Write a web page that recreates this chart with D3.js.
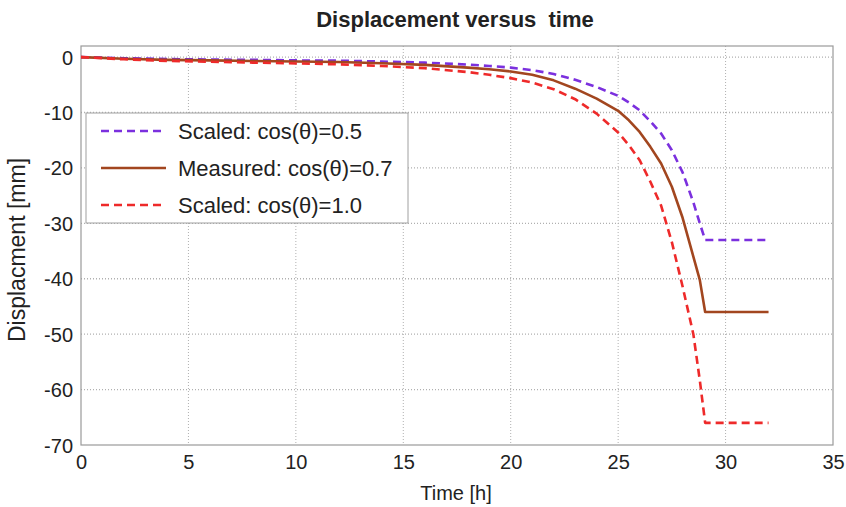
<!DOCTYPE html>
<html>
<head>
<meta charset="utf-8">
<script src="https://cdn.jsdelivr.net/npm/d3@7/dist/d3.min.js"></script>
<style>
  html, body { margin: 0; padding: 0; background: #fff; }
  text { font-family: "Liberation Sans", Arial, sans-serif; fill: #222; }
</style>
</head>
<body>
<svg id="chart" width="846" height="507"></svg>
<script>
// ---- data ----
const time = [0, 2, 4, 6, 8, 10, 12, 14, 16, 18, 19, 20, 21, 22, 23, 24, 25, 25.5, 26, 26.5, 27, 27.5, 28, 28.5, 28.8, 29.05, 32];
const scaled05 = [0, -0.2, -0.35, -0.45, -0.5, -0.6, -0.65, -0.8, -1.0, -1.35, -1.6, -1.9, -2.35, -3.05, -4.1, -5.4, -7.0, -8.2, -9.6, -11.6, -13.8, -16.8, -20.8, -26.2, -30, -33, -33];
const measured07 = [0, -0.3, -0.5, -0.6, -0.7, -0.8, -0.9, -1.1, -1.4, -1.9, -2.2, -2.6, -3.2, -4.2, -5.7, -7.5, -9.7, -11.4, -13.5, -16.2, -19.2, -23.4, -29.0, -36, -40.2, -46, -46];
const scaled10 = [0, -0.4, -0.7, -0.85, -1.0, -1.15, -1.3, -1.6, -2.0, -2.7, -3.2, -3.8, -4.6, -5.8, -7.6, -10.2, -13.6, -15.9, -18.6, -22.5, -26.8, -33.4, -41.4, -50, -58.3, -66, -66];
const xTicks = [0, 5, 10, 15, 20, 25, 30, 35];
const yTicks = [0, -10, -20, -30, -40, -50, -60, -70];
const seriesNames = ["Scaled: cos(\u03B8)=0.5", "Measured: cos(\u03B8)=0.7", "Scaled: cos(\u03B8)=1.0"];

const series = [
  { name: seriesNames[0], values: scaled05, color: "#7b30de", dash: "8,5" },
  { name: seriesNames[1], values: measured07, color: "#a2461f", dash: null },
  { name: seriesNames[2], values: scaled10, color: "#ee2a2a", dash: "8,5" }
];

const svg = d3.select("#chart");
const W = 846, H = 507;
const m = { left: 81, right: W - 833, top: 46, bottom: H - 445 };

const x = d3.scaleLinear().domain([0, 35]).range([m.left, W - m.right]);
const y = d3.scaleLinear().domain([-70, 2]).range([H - m.bottom, m.top]);

// grid
const g = svg.append("g");
g.selectAll("line.vg").data(xTicks.slice(1, -1)).enter().append("line")
  .attr("x1", d => x(d)).attr("x2", d => x(d))
  .attr("y1", y(2)).attr("y2", y(-70))
  .attr("stroke", "#b0b0b0").attr("stroke-width", 1).attr("stroke-dasharray", "1,2");
g.selectAll("line.hg").data(yTicks.slice(0, -1)).enter().append("line")
  .attr("x1", x(0)).attr("x2", x(35))
  .attr("y1", d => y(d)).attr("y2", d => y(d))
  .attr("stroke", "#b0b0b0").attr("stroke-width", 1.3).attr("stroke-dasharray", "1,2");

// frame
svg.append("rect")
  .attr("x", x(0)).attr("y", y(2))
  .attr("width", x(35) - x(0)).attr("height", y(-70) - y(2))
  .attr("fill", "none").attr("stroke", "#9a9a9a").attr("stroke-width", 1.2);

// axes
const fmt = d => String(d);
const xAxis = d3.axisBottom(x).tickValues(xTicks).tickSize(0).tickPadding(10).tickFormat(fmt);
const yAxis = d3.axisLeft(y).tickValues(yTicks).tickSize(0).tickPadding(8).tickFormat(fmt);
const xa = svg.append("g").attr("transform", `translate(0,${y(-70)})`).call(xAxis);
const ya = svg.append("g").attr("transform", `translate(${x(0)},0)`).call(yAxis);
[xa, ya].forEach(a => {
  a.select(".domain").remove();
  a.selectAll("text").style("font-size", "20px").style("font-family", "'Liberation Sans', Arial, sans-serif").attr("fill", "#222");
});
ya.selectAll("text").attr("dy", "0.35em");

// lines
const line = d3.line().x((d, i) => x(time[i])).y(d => y(d));
series.forEach(s => {
  svg.append("path")
    .datum(s.values)
    .attr("d", line)
    .attr("fill", "none")
    .attr("stroke", s.color)
    .attr("stroke-width", 2.6)
    .attr("stroke-dasharray", s.dash)
    .attr("stroke-linejoin", "round");
});

// title & labels
svg.append("text").attr("x", 455).attr("y", 27).attr("text-anchor", "middle")
  .attr("xml:space", "preserve").style("white-space", "pre")
  .style("font-size", "22px").style("font-weight", "bold").text("Displacement versus  time");
svg.append("text").attr("x", 456).attr("y", 500).attr("text-anchor", "middle")
  .style("font-size", "20px").text("Time [h]");
svg.append("text").attr("transform", "translate(25,250) rotate(-90)").attr("text-anchor", "middle")
  .style("font-size", "23px").text("Displacment [mm]");

// legend
const lg = svg.append("g");
lg.append("rect").attr("x", 86).attr("y", 113).attr("width", 322).attr("height", 110)
  .attr("fill", "#fff").attr("stroke", "#a0a0a0").attr("stroke-width", 1);
const rows = [131, 168, 205];
series.forEach((s, i) => {
  lg.append("line").attr("x1", 101).attr("x2", 166).attr("y1", rows[i]).attr("y2", rows[i])
    .attr("stroke", s.color).attr("stroke-width", 2.6).attr("stroke-dasharray", s.dash);
  lg.append("text").attr("x", 178).attr("y", rows[i]).attr("dy", "0.35em")
    .style("font-size", "22px").text(s.name);
});
</script>
</body>
</html>
